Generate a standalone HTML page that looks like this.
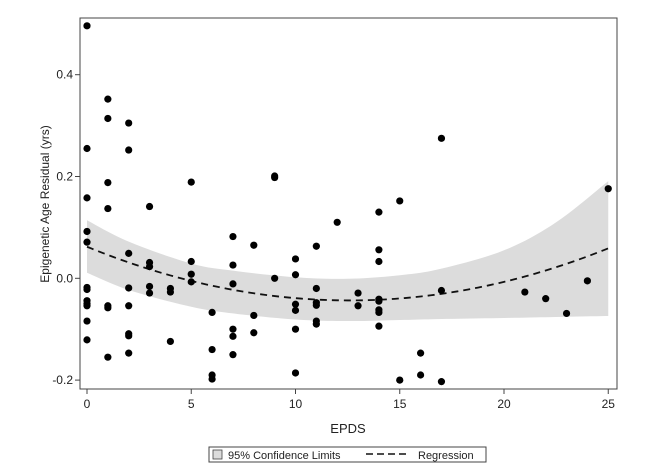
<!DOCTYPE html>
<html><head><meta charset="utf-8"><style>
body{margin:0;background:#fff;font-family:"Liberation Sans",sans-serif}
svg text{font-family:"Liberation Sans",sans-serif;fill:#222}
</style></head><body>
<svg id="chart" width="648" height="470" viewBox="0 0 648 470" xmlns="http://www.w3.org/2000/svg">
<rect x="80" y="18" width="537" height="371" fill="#fff" stroke="#444" stroke-width="1"/>
<g id="band"></g><g id="reg"></g><g id="pts"></g><g id="axes"></g>
<text x="348" y="433" font-size="13" text-anchor="middle">EPDS</text>
<text transform="translate(49,204) rotate(-90)" font-size="12" text-anchor="middle">Epigenetic Age Residual (yrs)</text>
<g>
<rect x="209" y="447" width="277" height="15" fill="#fff" stroke="#444"/>
<rect x="213" y="450" width="9" height="9" fill="#dcdcdc" stroke="#444" stroke-width="0.8"/>
<text x="228" y="459" font-size="11">95% Confidence Limits</text>
<line x1="366" y1="454" x2="410" y2="454" stroke="#111" stroke-width="1.6" stroke-dasharray="7,4"/>
<text x="418" y="459" font-size="11">Regression</text>
</g>
</svg>
<script>
const ptX=[0,0,0,0,0,0,0,0,0,0,0,0,1,1,1,1,1,1,1,2,2,2,2,2,2,2,2,3,3,3,3,3,4,4,4,5,5,5,5,6,6,6,6,7,7,7,7,7,7,8,8,8,9,9,9,10,10,10,10,10,10,11,11,11,11,11,11,12,13,13,14,14,14,14,14,14,14,14,15,15,16,16,17,17,17,21,22,23,24,25];
const ptY=[0.496,0.255,0.158,0.092,0.071,-0.018,-0.022,-0.044,-0.050,-0.054,-0.084,-0.121,0.352,0.314,0.188,0.137,-0.054,-0.058,-0.155,0.305,0.252,0.049,-0.019,-0.054,-0.109,-0.113,-0.147,0.141,0.031,0.023,-0.016,-0.029,-0.020,-0.027,-0.124,0.189,0.033,0.008,-0.007,-0.067,-0.140,-0.190,-0.198,0.082,0.026,-0.011,-0.100,-0.114,-0.150,0.065,-0.073,-0.107,0.201,0.198,0.0,0.038,0.007,-0.051,-0.063,-0.100,-0.186,0.063,-0.020,-0.048,-0.053,-0.084,-0.090,0.110,-0.029,-0.054,0.130,0.056,0.033,-0.041,-0.045,-0.062,-0.067,-0.094,0.152,-0.200,-0.147,-0.190,0.275,-0.024,-0.203,-0.027,-0.040,-0.069,-0.005,0.176];
const bandX=[0,2,5,7,10,12.5,15,17,20,22.5,25];
const bandUpper=[0.114,0.072,0.029,0.015,0.002,-0.001,0.006,0.019,0.055,0.110,0.191];
const bandLower=[0.011,-0.023,-0.056,-0.069,-0.081,-0.084,-0.082,-0.080,-0.078,-0.076,-0.074];
const regCoef=[0.062,-0.01675,0.000665];
const xTicks=[0,5,10,15,20,25];
const yTicks=[0.4,0.2,0.0,-0.2];
const yTickLabels=["0.4","0.2","0.0","-0.2"];
const NS="http://www.w3.org/2000/svg";
const sx=v=>87+v*20.85;
const sy=v=>278.3-v*509;
function mk(t,a,p){const e=document.createElementNS(NS,t);for(const k in a)e.setAttribute(k,a[k]);p.appendChild(e);return e;}
// Monotone-ish smooth sampling via Catmull-Rom on data arrays
function smooth(xs,ys){const out=[];const n=xs.length;
for(let i=0;i<n-1;i++){const p0=[xs[Math.max(i-1,0)],ys[Math.max(i-1,0)]],p1=[xs[i],ys[i]],p2=[xs[i+1],ys[i+1]],p3=[xs[Math.min(i+2,n-1)],ys[Math.min(i+2,n-1)]];
for(let s=0;s<10;s++){const t=s/10,t2=t*t,t3=t2*t;
const f=k=>0.5*((2*p1[k])+(-p0[k]+p2[k])*t+(2*p0[k]-5*p1[k]+4*p2[k]-p3[k])*t2+(-p0[k]+3*p1[k]-3*p2[k]+p3[k])*t3);
out.push([f(0),f(1)]);}}
out.push([xs[n-1],ys[n-1]]);return out;}
const band=document.getElementById('band');
const up=smooth(bandX,bandUpper),lo=smooth(bandX,bandLower).reverse();
let d='M'+up.map(p=>sx(p[0])+','+sy(p[1])).join('L')+'L'+lo.map(p=>sx(p[0])+','+sy(p[1])).join('L')+'Z';
const bp=mk('path',{d:d,fill:'#dcdcdc'},band);


let rd='';for(let x=0;x<=25.001;x+=0.25){const y=regCoef[0]+regCoef[1]*x+regCoef[2]*x*x;rd+=(rd?'L':'M')+sx(x)+','+sy(y);}
const rl=mk('path',{d:rd,fill:'none',stroke:'#111','stroke-width':1.8,'stroke-dasharray':'7,5'},document.getElementById('reg'));


const pts=document.getElementById('pts');
ptX.forEach((x,i)=>{const c=mk('circle',{cx:sx(x),cy:sy(ptY[i]),r:3.6,fill:'#000'},pts);

});
const ax=document.getElementById('axes');
xTicks.forEach(t=>{const l=mk('line',{x1:sx(t),x2:sx(t),y1:389,y2:394,stroke:'#444'},ax);


const tx=mk('text',{x:sx(t),y:408,'font-size':12,'text-anchor':'middle'},ax);tx.textContent=t;

});
yTicks.forEach((t,i)=>{const l=mk('line',{x1:75,x2:80,y1:sy(t),y2:sy(t),stroke:'#444'},ax);


const tx=mk('text',{x:73,y:sy(t)+4,'font-size':12,'text-anchor':'end'},ax);tx.textContent=yTickLabels[i];

});
</script>
</body></html>
